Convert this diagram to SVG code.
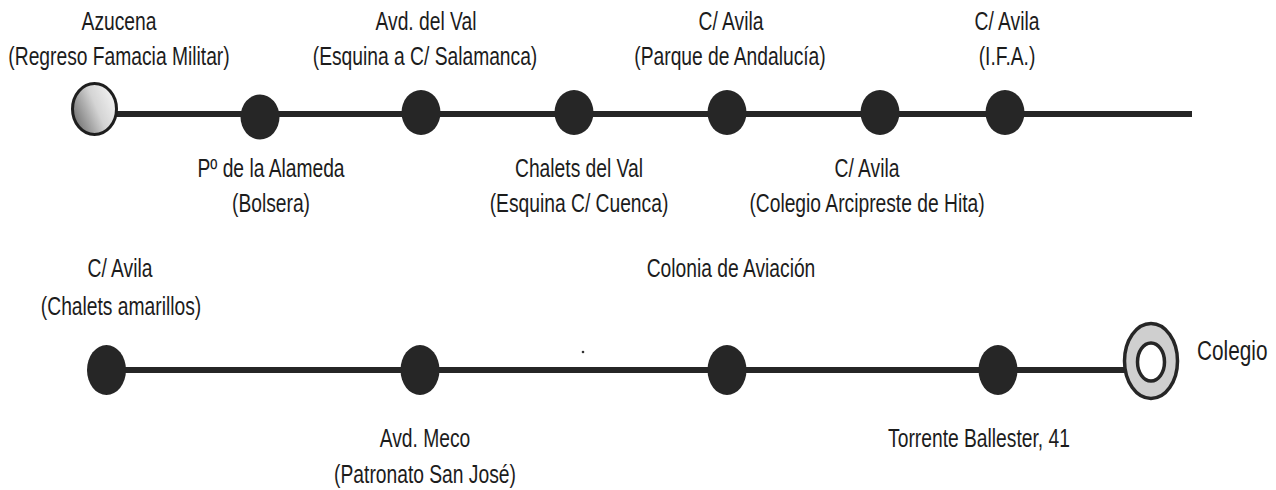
<svg xmlns="http://www.w3.org/2000/svg" width="1276" height="490" viewBox="0 0 1276 490">
<style>
.lbl{font-family:"Liberation Sans",Arial,sans-serif;font-size:25px;fill:#1c1c1c;text-anchor:middle}
.lbs{font-family:"Liberation Sans",Arial,sans-serif;font-size:27px;fill:#1c1c1c;text-anchor:start}
.line{stroke:#262626;stroke-width:6;fill:none}
.dot{fill:#262626}
</style>
<defs>
<linearGradient id="g1" x1="0" y1="0.75" x2="1" y2="0.25">
<stop offset="0" stop-color="#6e6e6e"/>
<stop offset="0.55" stop-color="#d4d4d4"/>
<stop offset="1" stop-color="#f4f4f4"/>
</linearGradient>
</defs>
<rect width="1276" height="490" fill="#ffffff"/>
<g id="connectors">
<line class="line" x1="110" y1="114" x2="1192" y2="114"/>
<line class="line" x1="108" y1="370" x2="1125" y2="370"/>
</g>
<g id="n-azucena">
<ellipse cx="94.5" cy="109" rx="22" ry="25.5" fill="url(#g1)" stroke="#1e1e1e" stroke-width="3"/>
<text class="lbl" transform="translate(119,30) scale(0.77,1)">Azucena</text>
<text class="lbl" transform="translate(119,65) scale(0.77,1)">(Regreso Famacia Militar)</text>
</g>
<g id="n-alameda">
<ellipse class="dot" cx="260" cy="117" rx="19.5" ry="22.5"/>
<text class="lbl" transform="translate(271,177) scale(0.77,1)">Pº de la Alameda</text>
<text class="lbl" transform="translate(271,212) scale(0.77,1)">(Bolsera)</text>
</g>
<g id="n-avdval">
<ellipse class="dot" cx="421" cy="112.5" rx="19.5" ry="22.5"/>
<text class="lbl" transform="translate(426,30) scale(0.77,1)">Avd. del Val</text>
<text class="lbl" transform="translate(425,65) scale(0.77,1)">(Esquina a C/ Salamanca)</text>
</g>
<g id="n-chalets">
<ellipse class="dot" cx="574" cy="112.5" rx="19.5" ry="22.5"/>
<text class="lbl" transform="translate(579,177) scale(0.77,1)">Chalets del Val</text>
<text class="lbl" transform="translate(579,212) scale(0.77,1)">(Esquina C/ Cuenca)</text>
</g>
<g id="n-parque">
<ellipse class="dot" cx="727" cy="112.5" rx="19.5" ry="22.5"/>
<text class="lbl" transform="translate(731,30) scale(0.77,1)">C/ Avila</text>
<text class="lbl" transform="translate(730,65) scale(0.77,1)">(Parque de Andalucía)</text>
</g>
<g id="n-arcipreste">
<ellipse class="dot" cx="880" cy="112.5" rx="19.5" ry="22.5"/>
<text class="lbl" transform="translate(867,177) scale(0.77,1)">C/ Avila</text>
<text class="lbl" transform="translate(867,212) scale(0.77,1)">(Colegio Arcipreste de Hita)</text>
</g>
<g id="n-ifa">
<ellipse class="dot" cx="1005" cy="112.5" rx="19.5" ry="22.5"/>
<text class="lbl" transform="translate(1007,30) scale(0.77,1)">C/ Avila</text>
<text class="lbl" transform="translate(1007,65) scale(0.77,1)">(I.F.A.)</text>
</g>
<g id="n-amarillos">
<ellipse class="dot" cx="106.5" cy="370" rx="19.5" ry="25"/>
<text class="lbl" transform="translate(120,277) scale(0.77,1)">C/ Avila</text>
<text class="lbl" transform="translate(121,315) scale(0.77,1)">(Chalets amarillos)</text>
</g>
<g id="n-meco">
<ellipse class="dot" cx="420" cy="370" rx="19.5" ry="25"/>
<text class="lbl" transform="translate(425,447) scale(0.77,1)">Avd. Meco</text>
<text class="lbl" transform="translate(425,483) scale(0.77,1)">(Patronato San José)</text>
</g>
<g id="n-aviacion">
<ellipse class="dot" cx="727" cy="370" rx="19.5" ry="25"/>
<text class="lbl" transform="translate(731,277) scale(0.77,1)">Colonia de Aviación</text>
</g>
<g id="n-torrente">
<ellipse class="dot" cx="998" cy="370" rx="19.5" ry="25"/>
<text class="lbl" transform="translate(979,447) scale(0.77,1)">Torrente Ballester, 41</text>
</g>
<g id="n-colegio">
<ellipse cx="1151" cy="361" rx="26.5" ry="37.5" fill="#cfcfcf" stroke="#262626" stroke-width="3.5"/>
<ellipse cx="1151" cy="362" rx="13.5" ry="19" fill="#ffffff" stroke="#262626" stroke-width="3.5"/>
<text class="lbs" transform="translate(1197,360) scale(0.77,1)">Colegio</text>
</g>
<circle cx="583" cy="352" r="1.3" fill="#333333"/>
</svg>
